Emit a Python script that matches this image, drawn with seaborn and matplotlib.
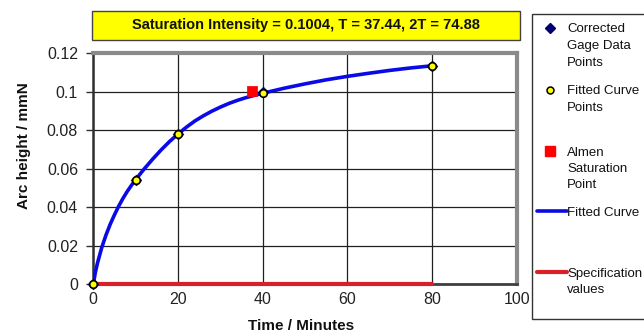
import matplotlib
matplotlib.use("Agg")
import matplotlib.pyplot as plt
import seaborn as sns
from matplotlib.patches import Rectangle

# data
time_points = [0, 10, 20, 40, 80]
gage_values = [0, 0.0542, 0.0778, 0.0997, 0.1136]
fitted_values = [0, 0.0543, 0.0780, 0.0992, 0.1135]

curve_x = [0, 0.5, 1, 2, 3, 4, 5, 6, 7, 8, 9, 10, 12, 14, 16, 18, 20,
           22, 24, 26, 28, 30, 32, 34, 36, 38, 40,
           45, 50, 55, 60, 65, 70, 75, 80]
curve_y = [0, 0.0062, 0.0110, 0.0190, 0.0255, 0.0311, 0.0360, 0.0405,
           0.0445, 0.0481, 0.0513, 0.0543, 0.0598, 0.0649, 0.0697, 0.0741,
           0.0780, 0.0816, 0.0848, 0.0875, 0.0899, 0.0920, 0.0939, 0.0955,
           0.0969, 0.0981, 0.0992, 0.1018, 0.1041, 0.1062, 0.1080, 0.1096,
           0.1111, 0.1124, 0.1135]

sat_time = [37.44]
sat_value = [0.1004]

spec_x = [0, 80]
spec_y = [0, 0]

title_text = "Saturation Intensity = 0.1004, T = 37.44, 2T = 74.88"
x_ticks = [0, 20, 40, 60, 80, 100]
y_ticks = [0, 0.02, 0.04, 0.06, 0.08, 0.1, 0.12]
y_tick_labels = ["0", "0.02", "0.04", "0.06", "0.08", "0.1", "0.12"]

sns.set_theme(style="white")
plt.rcParams["font.family"] = ["Liberation Sans", "DejaVu Sans"]

fig = plt.figure(figsize=(6.44, 3.36), dpi=100)
ax = fig.add_axes([93.3 / 644, 1 - 284 / 336, 423.4 / 644, 230.7 / 336])

# curve, spec line and points
sns.lineplot(x=curve_x, y=curve_y, ax=ax, color="#0a0ae6", lw=2.6,
             sort=False, estimator=None, zorder=3)
sns.lineplot(x=spec_x, y=spec_y, ax=ax, color="#d8202a", lw=3,
             sort=False, estimator=None, zorder=4, clip_on=False)
sns.scatterplot(x=time_points, y=gage_values, ax=ax, marker="D", s=30,
                color="#000070", edgecolor="#000070", zorder=5, clip_on=False)
sns.scatterplot(x=time_points, y=fitted_values, ax=ax, marker="o", s=30,
                color="#ffff00", edgecolor="black", linewidth=1.2,
                zorder=6, clip_on=False)
sns.scatterplot(x=sat_time, y=sat_value, ax=ax, marker="s", s=45,
                color="#ff0000", edgecolor="#ff0000", zorder=5)

ax.set_xlim(0, 100)
ax.set_ylim(0, 0.12)
ax.set_xticks(x_ticks)
ax.set_yticks(y_ticks)
ax.set_yticklabels(y_tick_labels)
ax.grid(True, color="#202020", lw=0.9)
ax.set_axisbelow(True)
ax.tick_params(axis="y", length=5, width=1, color="#303030", pad=6,
               labelsize=11.5, labelcolor="#222222", left=True)
ax.tick_params(axis="x", length=0, pad=6, labelsize=11.5, labelcolor="#222222")

for side in ["top", "right"]:
    ax.spines[side].set_color("#8a8a8a")
    ax.spines[side].set_linewidth(3)
ax.spines["left"].set_color("#303030")
ax.spines["left"].set_linewidth(1.8)
ax.spines["bottom"].set_color("#404040")
ax.spines["bottom"].set_linewidth(2)

ax.set_xlabel("Time / Minutes", fontsize=11, fontweight="bold", color="#111111")
ax.set_ylabel("Arc height / mmN", fontsize=11, fontweight="bold", color="#111111")
ax.xaxis.set_label_coords(0.49, -0.15)
ax.yaxis.set_label_coords(-0.148, 0.6)

# yellow title box
fig.patches.append(Rectangle((92 / 644, 1 - 40 / 336), 428 / 644, 28.5 / 336,
                             transform=fig.transFigure, facecolor="#ffff00",
                             edgecolor="#444444", lw=1))
fig.text(306 / 644, 1 - 25.5 / 336, title_text, ha="center", va="center",
         fontsize=10.5, fontweight="bold", color="#111111")

# legend box drawn by hand (Excel style, keys aligned with first text line)
lax = fig.add_axes([0, 0, 1, 1], facecolor="none")
lax.set_xlim(0, 644)
lax.set_ylim(336, 0)
lax.axis("off")
lax.add_patch(Rectangle((532, 14), 130, 305, facecolor="white",
                        edgecolor="#333333", lw=1, zorder=0))

legend_entries = [
    ("D", "Corrected\nGage Data\nPoints", 28),
    ("o", "Fitted Curve\nPoints", 90),
    ("s", "Almen\nSaturation\nPoint", 151),
    ("blue", "Fitted Curve", 211),
    ("red", "Specification\nvalues", 272),
]
for key, label, yy in legend_entries:
    if key == "D":
        lax.plot([550], [yy], marker="D", ms=5, color="#000070")
    elif key == "o":
        lax.plot([550], [yy], marker="o", ms=5, mfc="#ffff00", mec="black", mew=1.1)
    elif key == "s":
        lax.plot([550], [yy], marker="s", ms=7, color="#ff0000")
    elif key == "blue":
        lax.plot([537, 567], [yy, yy], color="#0a0ae6", lw=2.6)
    else:
        lax.plot([537, 567], [yy, yy], color="#d8202a", lw=3)
    lax.text(567, yy - 4.5, label, ha="left", va="top", fontsize=9.5,
             color="#111111", linespacing=1.5)

fig.savefig("out.png", dpi=100)
